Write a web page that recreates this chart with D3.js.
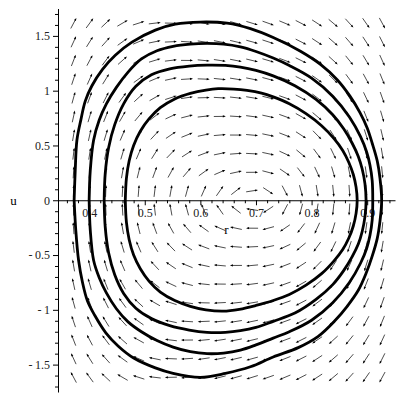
<!DOCTYPE html>
<html>
<head>
<meta charset="utf-8">
<script src="https://cdn.jsdelivr.net/npm/d3@7"></script>
<style>
  body { margin: 0; background: #fff; }
</style>
</head>
<body>
<svg id="chart" width="400" height="400"></svg>
<script>
// trajectories, [r, u], going round clockwise
const orbitA = [
  [0.465,0],[0.467,0.200],[0.472,0.360],[0.480,0.500],[0.492,0.630],[0.508,0.745],[0.528,0.845],
  [0.554,0.925],[0.582,0.975],[0.610,1.005],[0.632,1.018],[0.660,1.015],[0.684,1.003],[0.710,0.978],
  [0.731,0.943],[0.760,0.880],[0.790,0.790],[0.818,0.680],[0.840,0.565],[0.856,0.455],[0.867,0.345],
  [0.875,0.235],[0.880,0.120],[0.882,0],
  [0.880,-0.120],[0.875,-0.235],[0.867,-0.345],[0.856,-0.450],[0.840,-0.555],[0.818,-0.670],
  [0.790,-0.775],[0.760,-0.860],[0.731,-0.915],[0.700,-0.960],[0.670,-0.995],[0.641,-1.012],
  [0.610,-1.000],[0.582,-0.968],[0.554,-0.915],[0.528,-0.838],[0.508,-0.740],[0.492,-0.625],
  [0.480,-0.500],[0.472,-0.360],[0.467,-0.200],[0.465,0]
];
const orbitB = [
  [0.427,0],[0.429,0.250],[0.435,0.480],[0.446,0.690],[0.462,0.880],[0.484,1.040],[0.512,1.145],
  [0.545,1.200],[0.580,1.225],[0.612,1.233],[0.645,1.230],[0.672,1.215],[0.700,1.185],[0.731,1.135],
  [0.770,1.045],[0.808,0.920],[0.838,0.780],[0.858,0.650],[0.873,0.520],[0.884,0.400],[0.891,0.285],
  [0.896,0.150],[0.898,0],
  [0.896,-0.150],[0.891,-0.285],[0.884,-0.400],[0.873,-0.515],[0.858,-0.640],[0.838,-0.770],
  [0.808,-0.905],[0.770,-1.030],[0.731,-1.105],[0.700,-1.160],[0.672,-1.190],[0.645,-1.205],
  [0.612,-1.205],[0.580,-1.185],[0.545,-1.145],[0.512,-1.080],[0.484,-0.985],[0.462,-0.850],
  [0.446,-0.680],[0.435,-0.480],[0.429,-0.250],[0.427,0]
];
const orbitC = [
  [0.400,0],[0.402,0.270],[0.408,0.548],[0.418,0.730],[0.431,0.880],[0.449,1.030],[0.470,1.170],
  [0.494,1.290],[0.522,1.365],[0.551,1.405],[0.582,1.425],[0.612,1.431],[0.642,1.425],[0.672,1.400],
  [0.700,1.358],[0.731,1.298],[0.760,1.230],[0.800,1.115],[0.838,0.950],[0.868,0.760],[0.888,0.580],
  [0.899,0.440],[0.905,0.320],[0.909,0.180],[0.910,0],
  [0.909,-0.180],[0.905,-0.320],[0.899,-0.440],[0.888,-0.575],[0.868,-0.750],[0.838,-0.935],
  [0.800,-1.095],[0.760,-1.200],[0.731,-1.258],[0.700,-1.320],[0.672,-1.368],[0.642,-1.395],
  [0.612,-1.400],[0.582,-1.382],[0.551,-1.340],[0.522,-1.280],[0.494,-1.200],[0.470,-1.110],
  [0.449,-0.990],[0.431,-0.845],[0.418,-0.705],[0.408,-0.548],[0.402,-0.270],[0.400,0]
];
const orbitD = [
  [0.373,0],[0.375,0.274],[0.378,0.548],[0.385,0.731],[0.393,0.905],[0.405,1.045],[0.424,1.195],
  [0.447,1.324],[0.477,1.443],[0.519,1.553],[0.555,1.607],[0.600,1.626],[0.648,1.616],[0.690,1.566],
  [0.731,1.485],[0.780,1.360],[0.816,1.240],[0.846,1.100],[0.869,0.950],[0.887,0.800],[0.900,0.660],
  [0.909,0.520],[0.918,0.360],[0.923,0.200],[0.926,0],
  [0.923,-0.190],[0.918,-0.350],[0.909,-0.510],[0.898,-0.667],[0.884,-0.822],[0.864,-0.968],
  [0.841,-1.105],[0.812,-1.242],[0.776,-1.345],[0.731,-1.430],[0.690,-1.520],[0.645,-1.580],
  [0.600,-1.616],[0.551,-1.580],[0.519,-1.530],[0.480,-1.440],[0.452,-1.330],[0.430,-1.210],
  [0.410,-1.050],[0.397,-0.920],[0.388,-0.749],[0.381,-0.548],[0.376,-0.274],[0.373,0]
];
const orbits = [orbitA, orbitB, orbitC, orbitD];

// arrow grid (20 x 20)
const gridR = [0.372,0.401,0.430,0.460,0.489,0.518,0.547,0.576,0.606,0.635,
               0.664,0.693,0.722,0.752,0.781,0.810,0.839,0.868,0.898,0.927];
const gridU = [1.616,1.446,1.276,1.106,0.936,0.765,0.595,0.425,0.255,0.085,
               -0.085,-0.255,-0.425,-0.595,-0.765,-0.936,-1.106,-1.276,-1.446,-1.616];

const rTicks = [0.4, 0.5, 0.6, 0.7, 0.8, 0.9];
const uTicks = [-1.5, -1, -0.5, 0, 0.5, 1, 1.5];

// the system: r' = u, u' = F(r) - u^2
const r0 = 0.7;
function F(r) {
  const d = r0 - r;
  return 11 * d - 60 * d * d + 594 * d * d * d;
}

const serif = "'Liberation Serif', 'Times New Roman', 'DejaVu Serif', serif";
const svg = d3.select("svg#chart");
const x = d3.scaleLinear().domain([0.344, 0.95]).range([58, 395]);
const y = d3.scaleLinear().domain([-1.75, 1.75]).range([392, 8.5]);

// minor ticks
const minorR = d3.range(0.36, 0.95, 0.02).filter(v => rTicks.every(t => Math.abs(t - v) > 1e-6));
const minorU = d3.range(-1.7, 1.75, 0.1).filter(v => uTicks.every(t => Math.abs(t - v) > 1e-6));

svg.append("g")
  .attr("transform", `translate(0, ${y(0)})`)
  .call(d3.axisBottom(x).tickValues(minorR).tickSize(3).tickSizeOuter(0).tickFormat(""))
  .call(g => g.select(".domain").remove());
svg.append("g")
  .attr("transform", `translate(${x.range()[0]}, 0)`)
  .call(d3.axisLeft(y).tickValues(minorU).tickSize(3).tickSizeOuter(0).tickFormat(""))
  .call(g => g.select(".domain").remove());

svg.append("g")
  .attr("transform", `translate(0, ${y(0)})`)
  .call(d3.axisBottom(x).tickValues(rTicks).tickSize(5).tickSizeOuter(0).tickPadding(3)
    .tickFormat(d => d));
svg.append("g")
  .attr("transform", `translate(${x.range()[0]}, 0)`)
  .call(d3.axisLeft(y).tickValues(uTicks).tickSize(5).tickSizeOuter(0).tickPadding(3)
    .tickFormat(d => d < 0 ? "-\u2009" + Math.abs(d) : d));

svg.selectAll(".tick text")
  .style("font-family", serif)
  .style("font-size", "12px")
  .attr("fill", "#222");
svg.selectAll(".domain").attr("stroke", "#000");

svg.append("text").attr("x", 13.5).attr("y", 205).attr("text-anchor", "middle")
  .style("font-family", serif).style("font-size", "13px").text("u");
svg.append("text").attr("x", 226.5).attr("y", 234).attr("text-anchor", "middle")
  .style("font-family", serif).style("font-size", "13px").text("r");

// direction field
const arrowLen = 12, headLen = 3, headW = 1.1;
const field = [];
gridU.forEach(u => gridR.forEach(r => field.push({ r, u })));

const arrows = svg.append("g");
field.forEach(p => {
  const dr = p.u, du = F(p.r) - p.u * p.u;
  const eps = 1e-4;
  const cx = x(p.r), cy = y(p.u);
  let vx = x(p.r + dr * eps) - cx, vy = y(p.u + du * eps) - cy;
  const n = Math.hypot(vx, vy);
  vx /= n; vy /= n;
  const tx = cx - vx * arrowLen / 2, ty = cy - vy * arrowLen / 2;
  const hx = cx + vx * arrowLen / 2, hy = cy + vy * arrowLen / 2;
  arrows.append("line")
    .attr("x1", tx).attr("y1", ty).attr("x2", hx - vx * headLen * 0.5).attr("y2", hy - vy * headLen * 0.5)
    .attr("stroke", "#000").attr("stroke-width", 0.7);
  const bx = hx - vx * headLen, by = hy - vy * headLen;
  arrows.append("path")
    .attr("d", `M${hx},${hy}L${bx - vy * headW},${by + vx * headW}L${bx + vy * headW},${by - vx * headW}Z`)
    .attr("fill", "#000");
});

// trajectories
const line = d3.line()
  .x(d => x(d[0]))
  .y(d => y(d[1]))
  .curve(d3.curveCatmullRom.alpha(0.5));

svg.append("g").selectAll("path")
  .data(orbits)
  .enter().append("path")
  .attr("d", line)
  .attr("fill", "none")
  .attr("stroke", "#000")
  .attr("stroke-width", 2.8)
  .attr("stroke-linejoin", "round");
</script>
</body>
</html>
